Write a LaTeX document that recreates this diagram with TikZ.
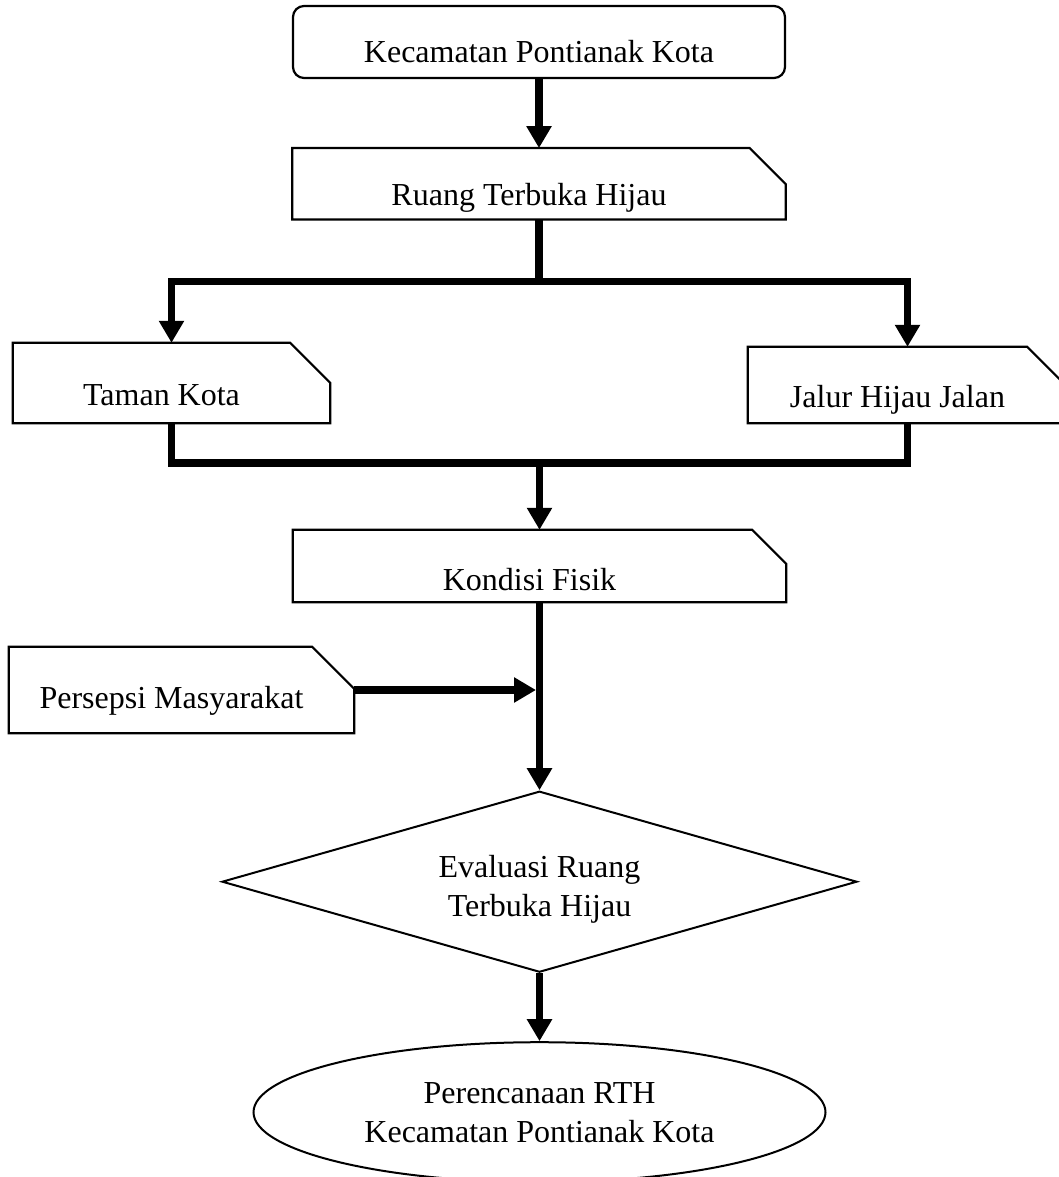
\documentclass[tikz,border=0pt]{standalone}
\usepackage{fontspec}
\setmainfont{Liberation Serif}
\usetikzlibrary{shapes.geometric, arrows.meta, positioning}

\begin{document}
\begin{tikzpicture}[
  x=1pt, y=-1pt,
  node distance=69pt,
  every node/.style={font=\fontsize{32}{38.5}\selectfont},
  outline/.style={draw=black, line width=2.2pt},
  startbox/.style={rectangle, outline, rounded corners=11pt, inner sep=0pt},
  cardbox/.style={rectangle, inner sep=0pt,
    execute at end node={\hspace*{20pt}},
    append after command={\pgfextra{\draw[outline, line join=miter]
      (\tikzlastnode.south west) -- (\tikzlastnode.north west)
      -- ([xshift=-#1]\tikzlastnode.north east)
      -- ([yshift=-#1]\tikzlastnode.north east)
      -- (\tikzlastnode.south east) -- cycle;}}},
  cardbox/.default=40pt,
  decisionbox/.style={diamond, outline, line width=2pt, aspect=3.5, inner sep=0pt,
    align=center, minimum width=635pt, minimum height=181pt},
  endbox/.style={ellipse, outline, line width=2pt, inner sep=0pt, align=center,
    minimum width=572pt, minimum height=140pt},
  flowline/.style={line width=7.5pt},
  flowarrow/.style={flowline, -{Triangle[width=24pt, length=22pt]}}
]
\useasboundingbox (0,0) rectangle (1059,1177);

% boxes
\node[startbox, minimum width=492pt, text height=57pt, text depth=15pt] (kec) at (539,42) {Kecamatan Pontianak Kota};
\node[cardbox=36pt, minimum width=493pt, text height=57pt, text depth=14pt, below=of kec] (rth) {Ruang Terbuka Hijau};
\node[cardbox, minimum width=317pt, text height=62pt, text depth=18pt] (taman) at (171.5,383) {Taman Kota};
\node[cardbox, minimum width=319pt, text height=60pt, text depth=16pt] (jalur) at (907.5,385) {Jalur Hijau Jalan};
\node[cardbox=34pt, minimum width=493pt, text height=60pt, text depth=12pt] (fisik) at (539.5,566) {Kondisi Fisik};
\node[cardbox=42pt, minimum width=345pt, text height=61pt, text depth=25pt] (persepsi) at (181.5,690) {Persepsi Masyarakat};
\node[decisionbox, text height=70pt, text depth=1pt, below=188pt of fisik] (eval) {Evaluasi Ruang\\Terbuka Hijau};
\node[endbox, text height=62pt, text depth=2pt, below=68pt of eval] (plan) {Perencanaan RTH\\Kecamatan Pontianak Kota};

% connectors
\draw[flowarrow] (kec.south) -- (rth.north);
\draw[flowline] (rth.south) -- ++(0,62) coordinate (split);
\draw[flowarrow] (split) -| (taman.north);
\draw[flowarrow] (split) -| (jalur.north);
\draw[flowline] (taman.south) -- ++(0,40) coordinate (merge) -| (jalur.south);
\draw[flowarrow] (merge -| fisik.north) -- (fisik.north);
\draw[flowarrow] (fisik.south) -- (eval.north);
\draw[flowarrow, shorten >=3.5pt] (persepsi.east) -- (persepsi.east -| fisik.south);
\draw[flowarrow] (eval.south) -- (plan.north);
\end{tikzpicture}
\end{document}
